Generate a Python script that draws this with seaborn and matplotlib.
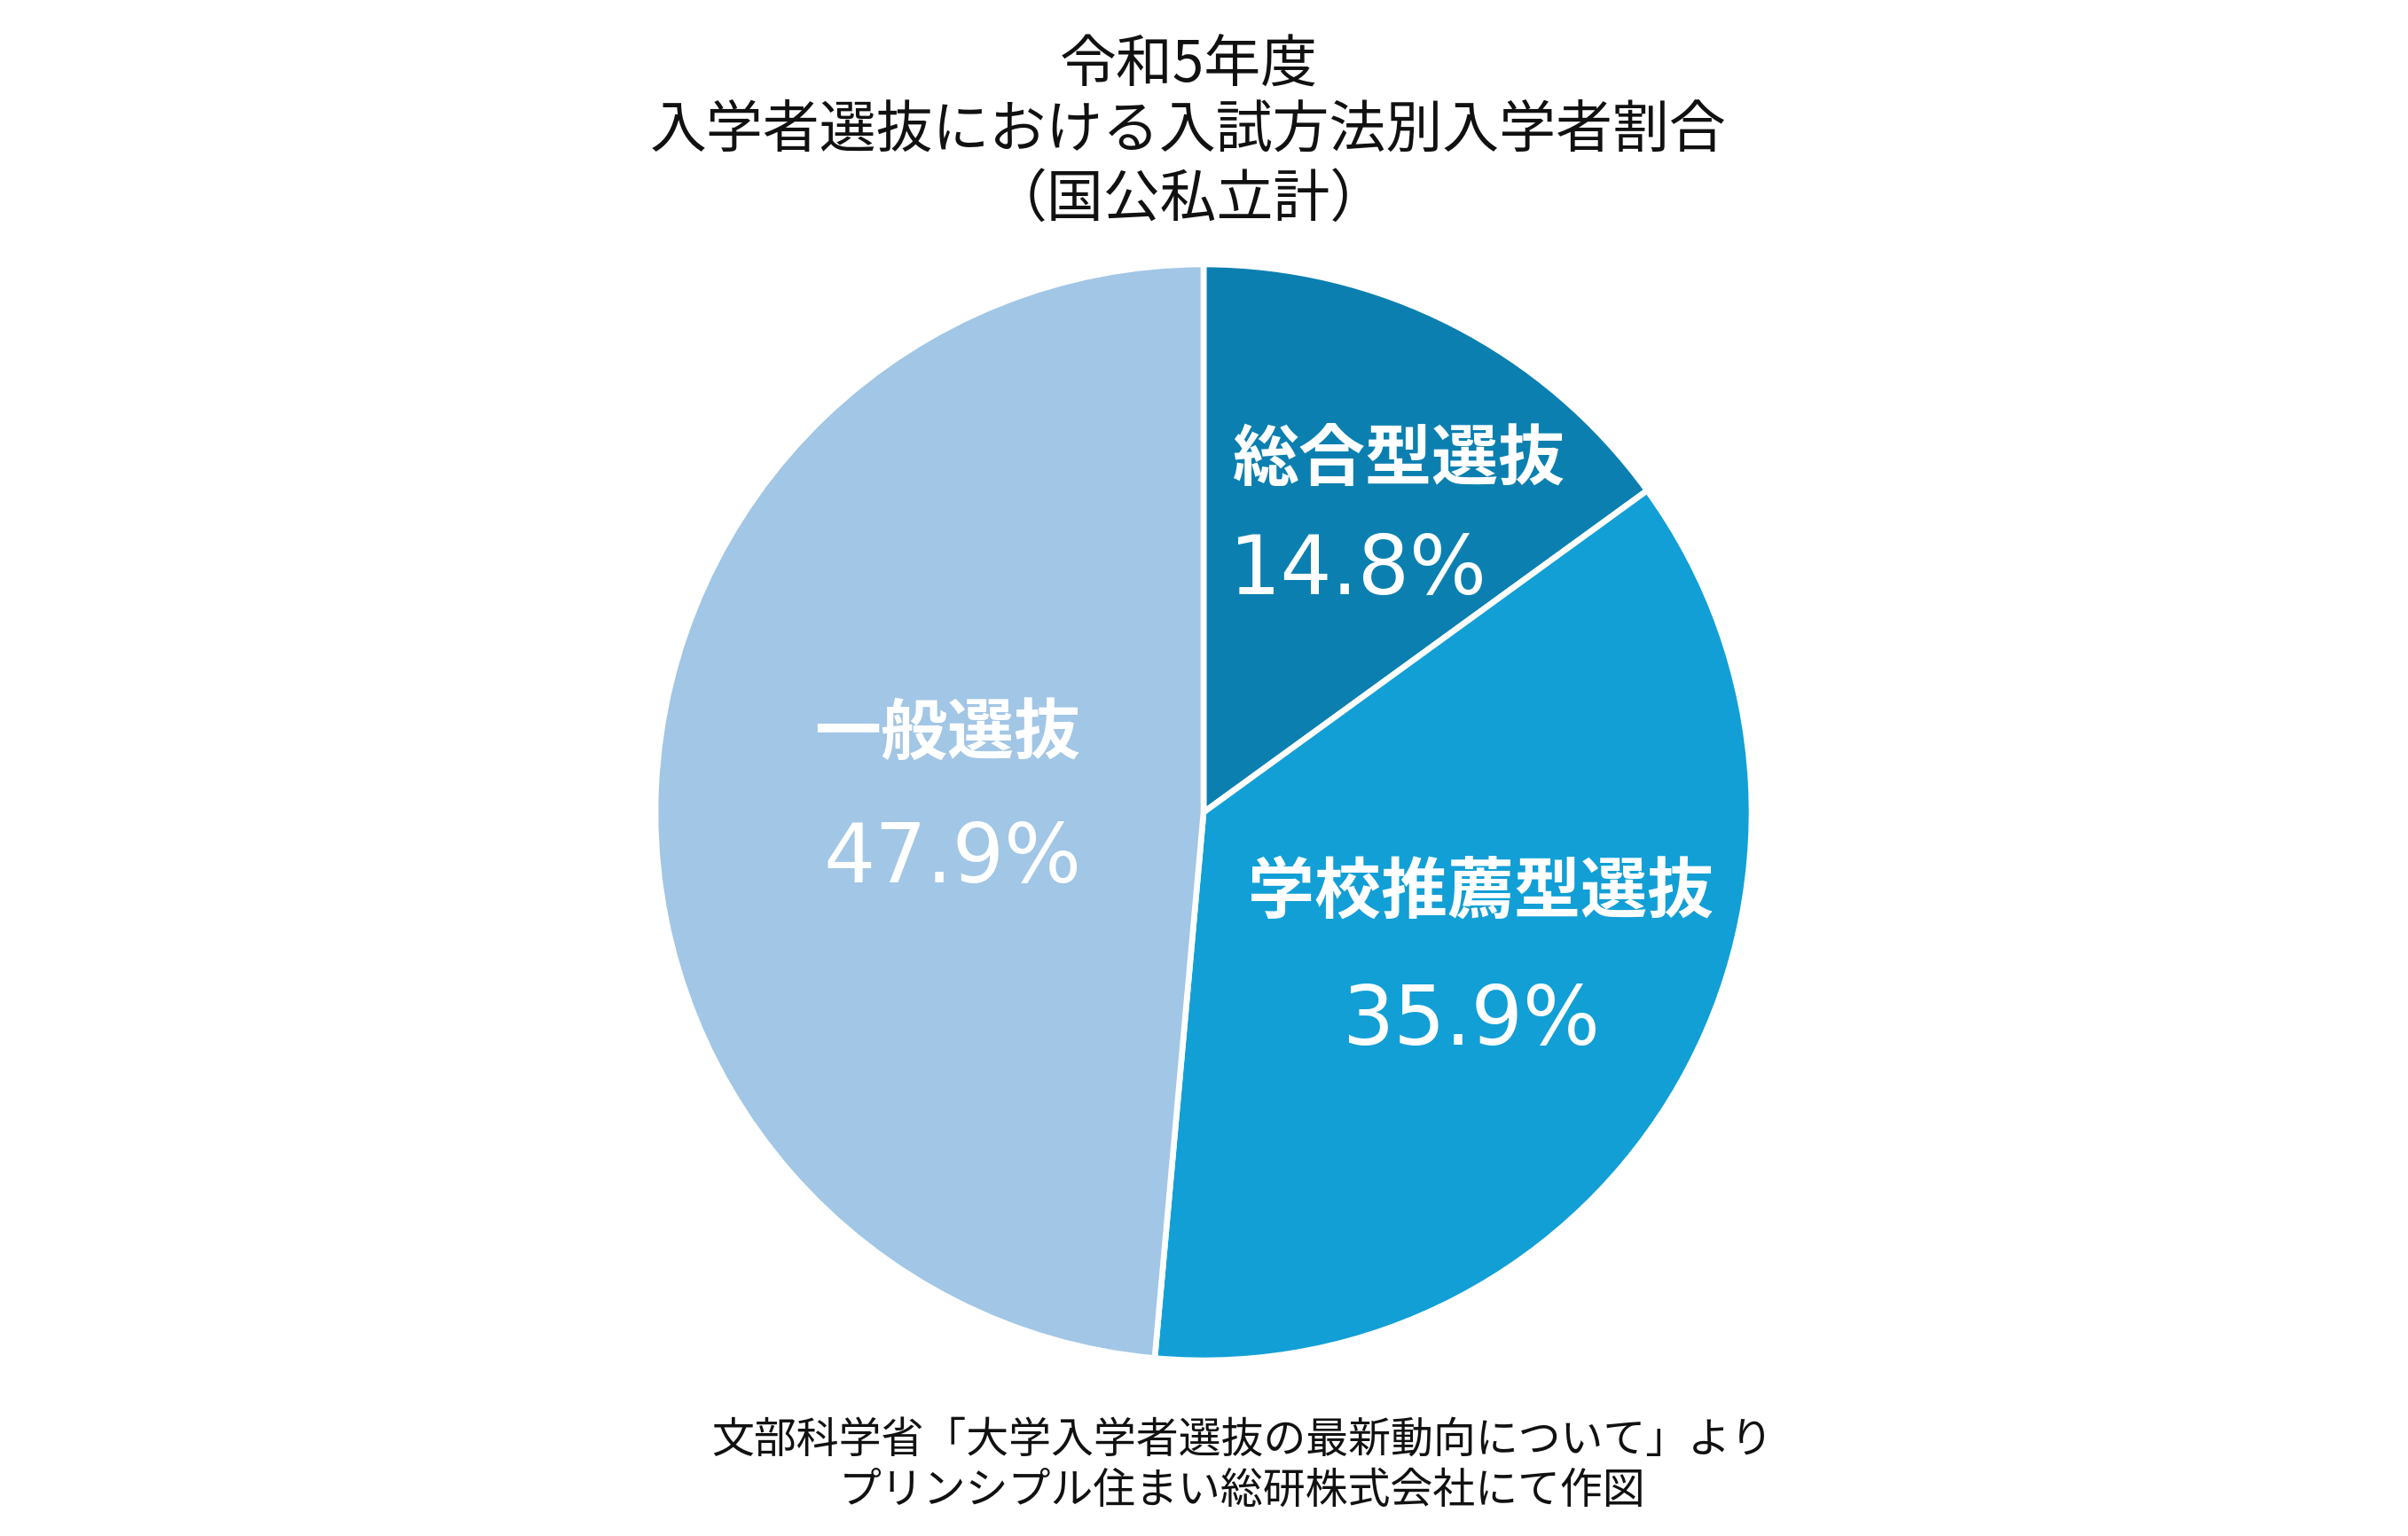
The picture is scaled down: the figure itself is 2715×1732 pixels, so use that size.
import matplotlib
matplotlib.use("Agg")
import matplotlib.pyplot as plt
import seaborn as sns

# ---- data ----
categories = ["総合型選抜", "学校推薦型選抜", "一般選抜"]
shares = [14.8, 35.9, 47.9]
colors = ["#0b80b0", "#119fd6", "#a2c6e5"]
title_lines = ["令和5年度", "入学者選抜における入試方法別入学者割合", "（国公私立計）"]
source_lines = ["文部科学省「大学入学者選抜の最新動向について」より",
                "プリンシプル住まい総研株式会社にて作図"]

sns.set_theme(style="white")
plt.rcParams["font.family"] = ["Noto Sans CJK JP", "DejaVu Sans"]

W, H = 2715, 1732
fig = plt.figure(figsize=(W / 100, H / 100), dpi=100)
fig.patch.set_facecolor("white")

cx, cy, r = 1357, 916, 618
pad = 1.01
ax = fig.add_axes([(cx - r * pad) / W, (H - cy - r * pad) / H, 2 * r * pad / W, 2 * r * pad / H])
ax.pie(shares, colors=colors, startangle=90, counterclock=False, radius=1.0,
       wedgeprops=dict(edgecolor="white", linewidth=4.8))
ax.set_xlim(-pad, pad)
ax.set_ylim(-pad, pad)
ax.set_aspect("equal")
ax.axis("off")

# title
title_y = [74, 147, 226]
for line, y in zip(title_lines, title_y):
    fig.text(1340 / W, 1 - y / H, line, ha="center", va="center", fontsize=46, color="#111111")

# source
src_y = [1625, 1681]
for line, y in zip(source_lines, src_y):
    fig.text(1401 / W, 1 - y / H, line, ha="center", va="center", fontsize=34.5, color="#111111")

# wedge labels
num_font = ["DejaVu Sans"]
label_pos = {
    "総合型選抜": dict(name=(1390, 519, "left"), pct=(1386, 670, "left")),
    "学校推薦型選抜": dict(name=(1669, 1007, "center"), pct=(1658, 1178, "center")),
    "一般選抜": dict(name=(1068, 828, "center"), pct=(1074, 995, "center")),
}
for cat, val in zip(categories, shares):
    p = label_pos[cat]
    x, y, ha = p["name"]
    fig.text(x / W, 1 - y / H, cat, ha=ha, va="center", fontsize=54, fontweight="bold", color="white")
    x, y, ha = p["pct"]
    fig.text(x / W, 1 - y / H, f"{val:.1f}%", ha=ha, va="baseline", fontsize=66,
             family=num_font, color="white")

fig.savefig("out.png", dpi=100, facecolor="white")
